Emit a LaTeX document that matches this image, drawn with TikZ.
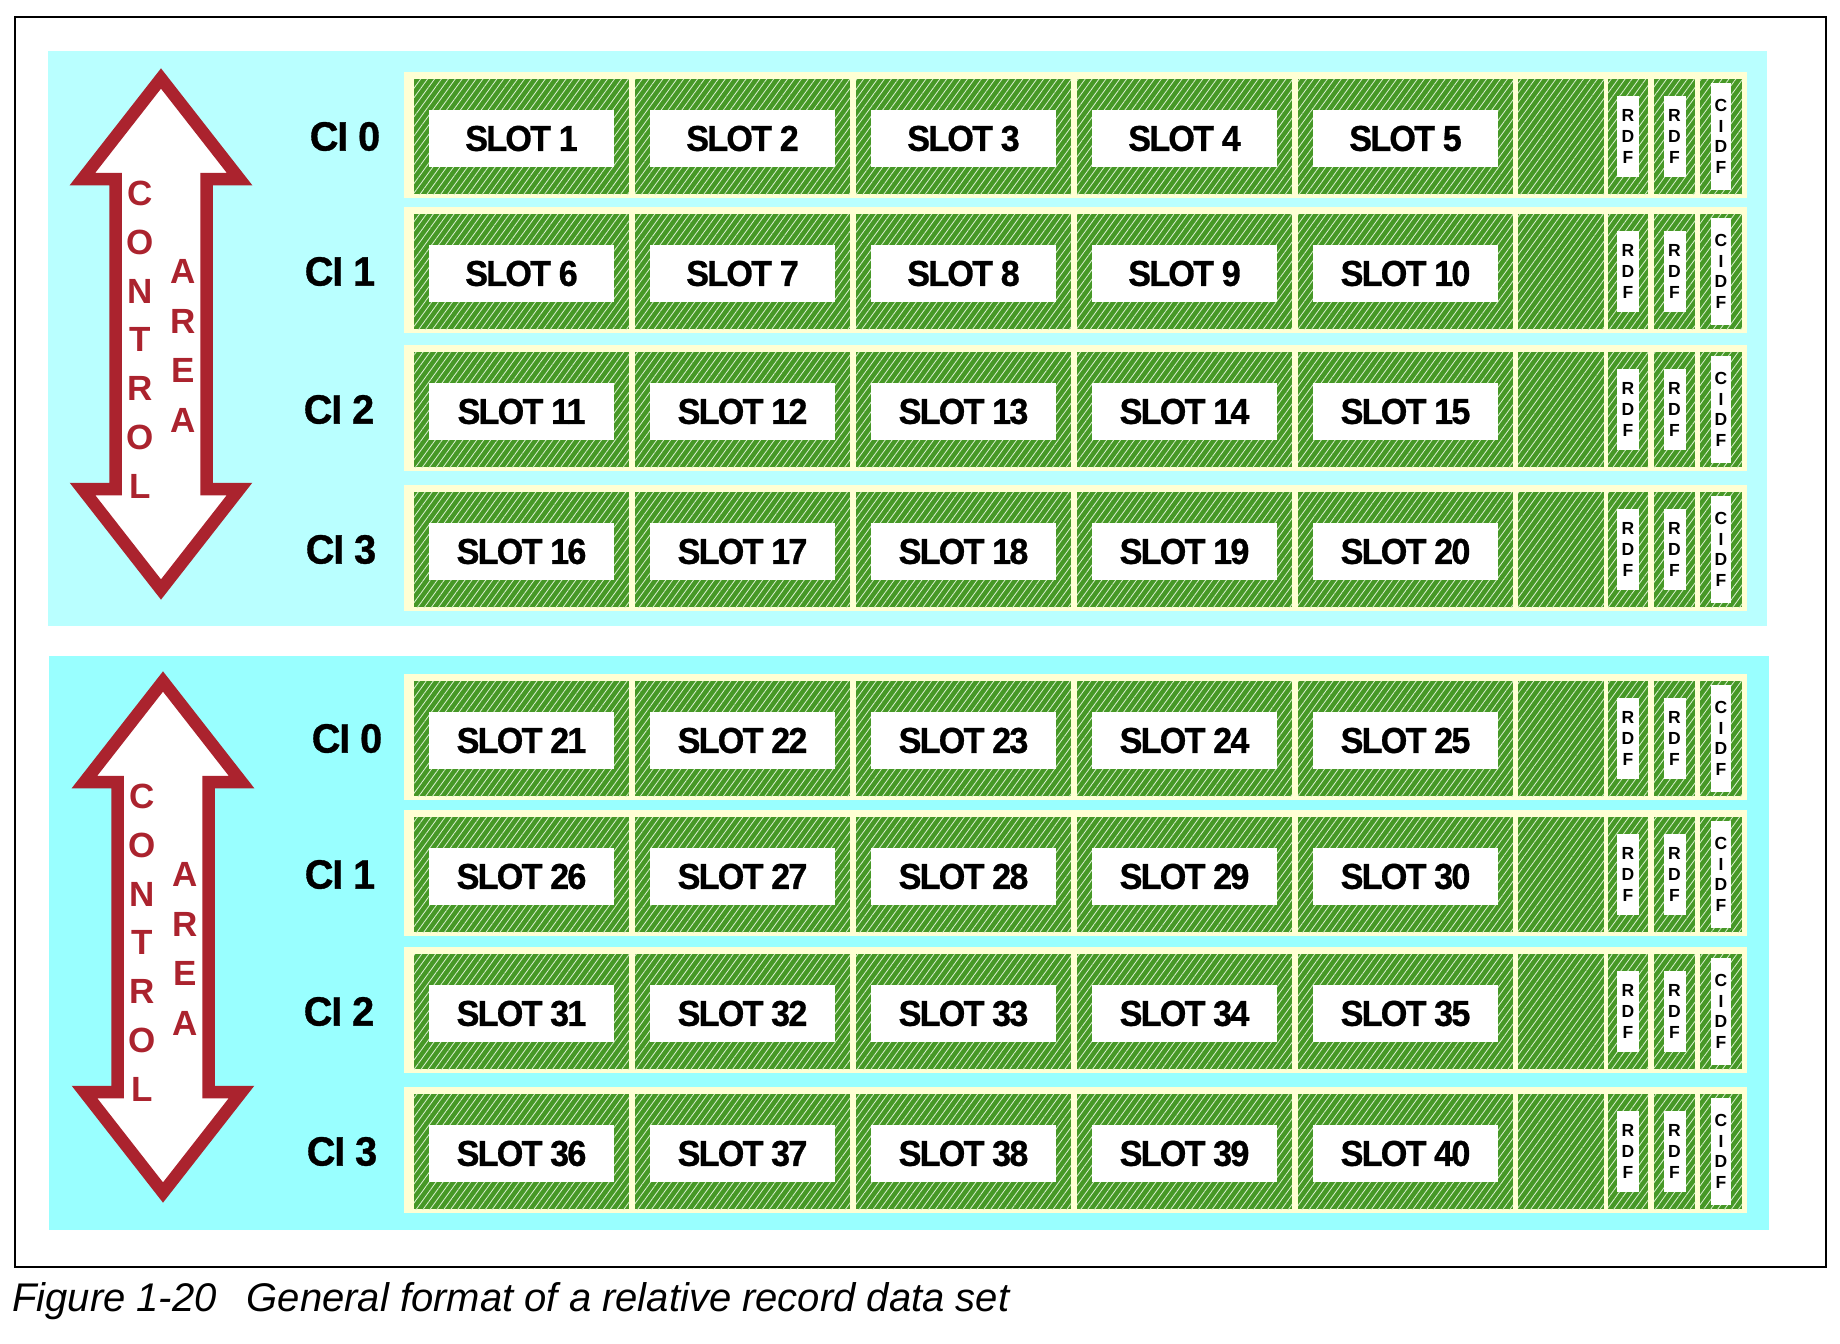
\documentclass[tikz,border=0pt]{standalone}
\usepackage{fontspec}
\setmainfont{Liberation Sans}
\newfontfamily\condfont[FakeStretch=0.95,LetterSpace=-5,FakeBold=0.8]{Liberation Sans}
\newfontfamily\cifont[FakeStretch=0.97,LetterSpace=-3,FakeBold=0.8]{Liberation Sans}
\usetikzlibrary{patterns.meta}
\definecolor{cyanA}{RGB}{185,255,255}
\definecolor{cyanB}{RGB}{153,255,255}
\definecolor{cream}{RGB}{255,255,212}
\definecolor{hatchgreen}{RGB}{70,152,38}
\definecolor{hatchline}{RGB}{215,238,205}
\definecolor{arrowred}{RGB}{171,35,46}
\tikzset{
  panelA/.style={fill=cyanA},
  panelB/.style={fill=cyanB},
  rowbg/.style={fill=cream},
  cell/.style={fill=hatchgreen, postaction={pattern={Lines[angle=54,distance=5.6pt,line width=0.85pt]}, pattern color=hatchline}},
  slotbox/.style={fill=white, minimum width=185pt, minimum height=57pt, inner sep=0pt, font=\condfont\bfseries\fontsize{36}{36}\selectfont},
  cilabel/.style={inner sep=0pt, font=\cifont\bfseries\fontsize{41}{41}\selectfont},
  rdfbox/.style={fill=white, minimum width=22pt, minimum height=81pt, inner sep=0pt, align=center, font=\bfseries\fontsize{17.5}{21}\selectfont},
  cidfbox/.style={fill=white, minimum width=20pt, minimum height=107pt, inner sep=0pt, align=center, font=\bfseries\fontsize{17.5}{20.7}\selectfont},
  bigarrow/.style={fill=white, draw=arrowred, line width=12.5pt, miter limit=10},
  ctext/.style={inner sep=0pt, text=arrowred, font=\bfseries\fontsize{35}{35}\selectfont},
}
\begin{document}
\begin{tikzpicture}[x=1pt,y=-1pt]
\useasboundingbox (0,0) rectangle (1840,1344);
% frame
\draw[line width=1.6pt] (15,17) rectangle (1826,1267);
\draw[line width=2.6pt] (15,1267) -- (1826,1267) -- (1826,17);
% panels
\path[panelA] (48,51) rectangle (1767,626);
\path[panelB] (49,656) rectangle (1769,1230);
% arrows
\foreach \cx/\cy/\p in {161/334/a,163/937/b}{
  \draw[bigarrow] (\cx,\cy-255.5) -- (\cx+78.5,\cy-155) -- (\cx+45.5,\cy-155) -- (\cx+45.5,\cy+155)
    -- (\cx+78.5,\cy+155) -- (\cx,\cy+255.5) -- (\cx-78.5,\cy+155) -- (\cx-45.5,\cy+155)
    -- (\cx-45.5,\cy-155) -- (\cx-78.5,\cy-155) -- cycle;
  \foreach \l [count=\i from 0] in {C,O,N,T,R,O,L}
    \node[ctext] (ctl\p\i) at (\cx-21,\cy-140.5+48.8*\i) {\l};
  \foreach \l [count=\i from 0] in {A,R,E,A}
    \node[ctext] (are\p\i) at (\cx+22,\cy-62.5+49.5*\i) {\l};
}
% rows
\foreach \Y/\ci/\base/\cix in {72/0/0/345,207/1/5/340,345/2/10/339,485/3/15/341,674/0/20/347,810/1/25/340,947/2/30/339,1087/3/35/342}{
  \path[rowbg] (404,\Y) rectangle (1747,\Y+126);
  \node[cilabel] (ci\base) at (\cix,\Y+64.5) {CI \ci};
  \foreach \c in {0,...,4}{
    \pgfmathtruncatemacro\sn{\base+\c+1}
    \pgfmathsetmacro\xl{414+221*\c}
    \path[cell] (\xl,\Y+7) rectangle (\xl+215,\Y+122);
    \node[slotbox] (slot\sn) at (\xl+107.5,\Y+66.5) {SLOT \sn};
  }
  \path[cell] (1518,\Y+7) rectangle (1604,\Y+122);
  \path[cell] (1608,\Y+7) rectangle (1648,\Y+122);
  \path[cell] (1654,\Y+7) rectangle (1695,\Y+122);
  \path[cell] (1700,\Y+7) rectangle (1742,\Y+122);
  \node[rdfbox] (rdfa\base) at (1628,\Y+64.5) {R\\D\\F};
  \node[rdfbox] (rdfb\base) at (1674.5,\Y+64.5) {R\\D\\F};
  \node[cidfbox] (cidf\base) at (1721,\Y+64.5) {C\\I\\D\\F};
}
% caption
\node[anchor=base west, inner sep=0pt, font=\itshape\fontsize{40}{40}\selectfont] (caption) at (12,1311) {Figure 1-20\hspace{30pt}General format of a relative record data set};
\end{tikzpicture}
\end{document}
